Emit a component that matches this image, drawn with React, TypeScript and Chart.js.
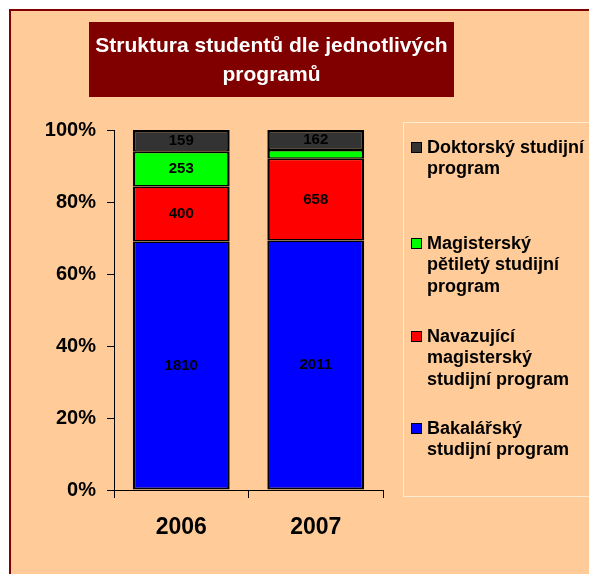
import React, { useEffect, useRef } from "react";
import { Chart, registerables } from "chart.js";

Chart.register(...registerables);

const years = ["2006", "2007"];
const bakalarsky = [1810, 2011];
const navazujici = [400, 658];
const magistersky = [253, 70];
const doktorsky = [159, 162];
const seriesLabels = [
  "Bakalářský studijní program",
  "Navazující magisterský studijní program",
  "Magisterský pětiletý studijní program",
  "Doktorský studijní program",
];
const legendLines = [
  ["Bakalářský", "studijní program"],
  ["Navazující", "magisterský", "studijní program"],
  ["Magisterský", "pětiletý studijní", "program"],
  ["Doktorský studijní", "program"],
];
const seriesColors = ["#0000FF", "#FF0000", "#00FF00", "#333333"];
const titleLines = ["Struktura studentů dle jednotlivých", "programů"];
const yTickStep = 20;

const FONT = "Arial, 'Liberation Sans', sans-serif";

export default function App() {
  const ref = useRef<HTMLCanvasElement | null>(null);

  useEffect(() => {
    const canvas = ref.current;
    if (!canvas) return;
    const raw = [bakalarsky, navazujici, magistersky, doktorsky];
    const totals = years.map((_, i) => raw.reduce((s, a) => s + a[i], 0));
    const n = raw.length;

    const datasets = raw.map((arr, k) => ({
      label: seriesLabels[k],
      data: arr.map((v, i) => (v / totals[i]) * 100),
      rawValues: arr,
      backgroundColor: seriesColors[k],
      borderColor: "#000000",
      borderWidth: {
        left: 2.5,
        right: 2.5,
        top: k === n - 1 ? 2.5 : 1.5,
        bottom: k === 0 ? 2 : 1.5,
      },
      borderSkipped: false,
      barPercentage: 0.72,
      categoryPercentage: 1,
    }));

    const framePlugin = {
      id: "frame",
      beforeDraw(chart: any) {
        const ctx = chart.ctx;
        ctx.save();
        ctx.fillStyle = "#FFCC99";
        ctx.fillRect(10, 10, chart.width, chart.height);
        ctx.strokeStyle = "#800000";
        ctx.lineWidth = 2;
        ctx.strokeRect(10, 10, chart.width + 10, chart.height + 10);
        // title box
        ctx.fillStyle = "#800000";
        ctx.fillRect(89, 22, 365, 75);
        ctx.fillStyle = "#FFFFFF";
        ctx.font = `bold 21px ${FONT}`;
        ctx.textAlign = "center";
        ctx.textBaseline = "middle";
        titleLines.forEach((t, i) => ctx.fillText(t, 271.5, 46 + i * 29));
        // legend box
        ctx.strokeStyle = "#FFEBD0";
        ctx.lineWidth = 1;
        ctx.strokeRect(403.5, 122.5, 200, 374);
        ctx.restore();
      },
      afterDraw(chart: any) {
        const ctx = chart.ctx;
        ctx.save();
        ctx.font = `bold 18px ${FONT}`;
        ctx.textAlign = "left";
        ctx.textBaseline = "middle";
        const starts = [148, 244, 337, 429];
        const order = chart.data.datasets.map((_: any, i: number) => i).reverse();
        order.forEach((di: number, idx: number) => {
          const ds = chart.data.datasets[di];
          const y0 = starts[idx];
          ctx.fillStyle = ds.backgroundColor;
          ctx.fillRect(411, y0 - 6, 11, 11);
          ctx.strokeStyle = "#000";
          ctx.lineWidth = 1;
          ctx.strokeRect(411.5, y0 - 5.5, 10, 10);
          ctx.fillStyle = "#000";
          legendLines[di].forEach((line, li) => ctx.fillText(line, 427, y0 + li * 21.5));
        });
        // data labels
        ctx.font = `bold 15px ${FONT}`;
        ctx.textAlign = "center";
        chart.data.datasets.forEach((ds: any, di: number) => {
          const meta = chart.getDatasetMeta(di);
          meta.data.forEach((el: any, i: number) => {
            const h = Math.abs(el.base - el.y);
            if (h < 14) return;
            ctx.fillStyle = "#000";
            ctx.fillText(String(ds.rawValues[i]), el.x, (el.y + el.base) / 2);
          });
        });
        ctx.restore();
      },
    };

    const chart = new Chart(canvas, {
      type: "bar",
      data: { labels: years, datasets: datasets as any },
      options: {
        responsive: false,
        animation: false,
        layout: { padding: { top: 130, right: 206, left: 0, bottom: 0 } },
        plugins: { legend: { display: false }, title: { display: false }, tooltip: { enabled: false } },
        scales: {
          x: {
            stacked: true,
            offset: true,
            grid: { offset: true, drawOnChartArea: false, drawTicks: true, tickLength: 8, color: "#000" },
            border: { display: true, color: "#000" },
            ticks: { color: "#000", font: { family: FONT, size: 23, weight: "bold" }, padding: 16 },
            afterFit: (s: any) => { s.height = 84; },
          },
          y: {
            stacked: true,
            min: 0,
            max: 100,
            grid: { drawOnChartArea: false, drawTicks: true, tickLength: 7, color: "#000" },
            border: { display: true, color: "#000" },
            ticks: {
              stepSize: yTickStep,
              color: "#000",
              padding: 11,
              font: { family: FONT, size: 20, weight: "bold" },
              callback: (v: any) => `${v}%`,
            },
            afterFit: (s: any) => { s.width = 114; },
          },
        },
      },
      plugins: [framePlugin],
    });
    return () => chart.destroy();
  }, []);

  return (
    <canvas
      ref={ref}
      width={589}
      height={574}
      style={{ position: "fixed", left: 0, top: 0, width: 589, height: 574, display: "block" }}
    />
  );
}
